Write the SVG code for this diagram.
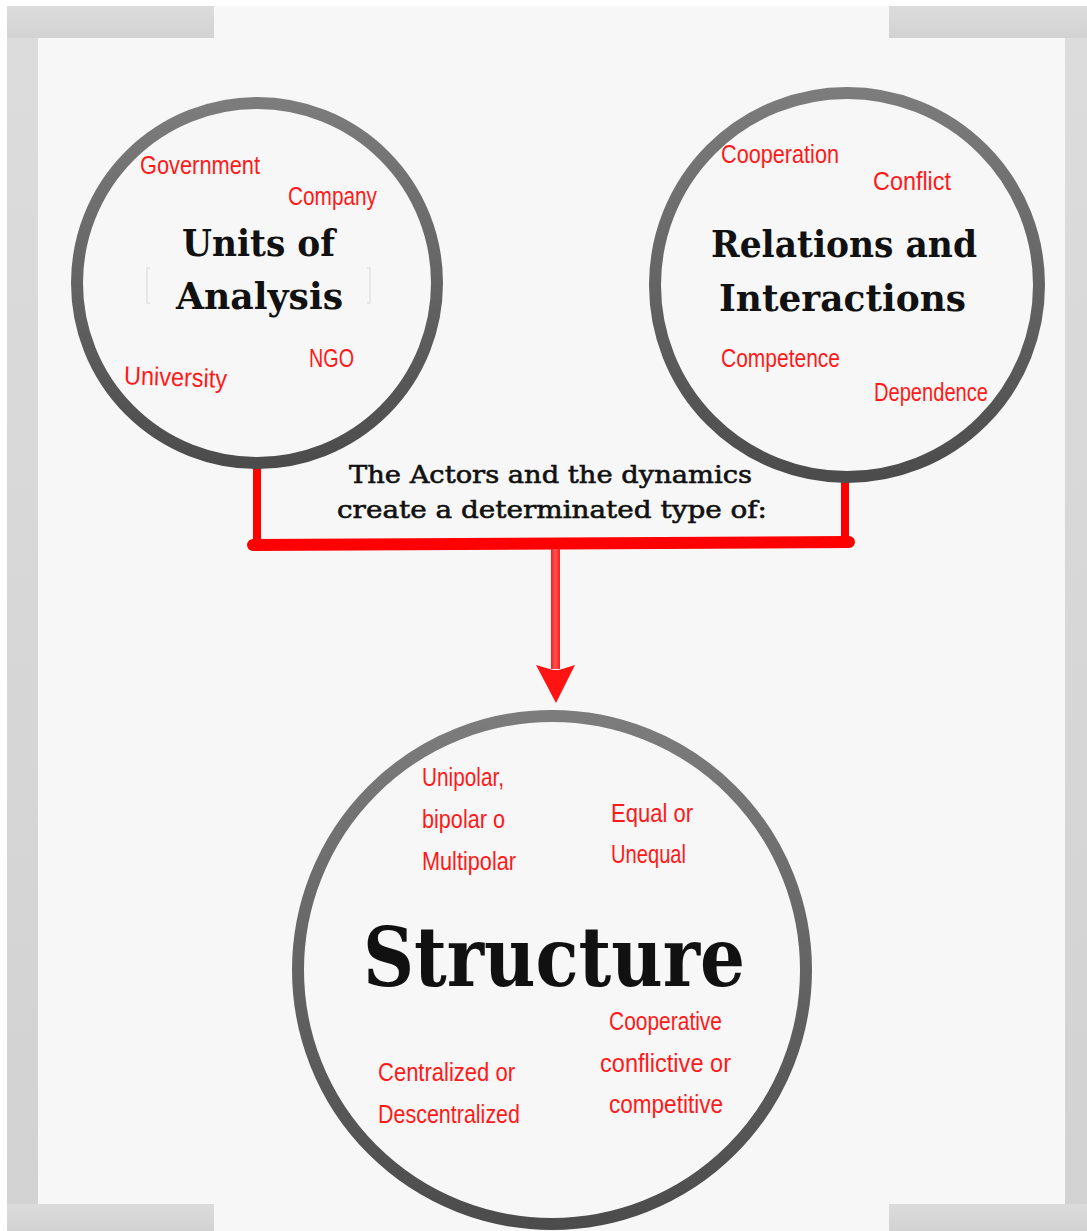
<svg xmlns="http://www.w3.org/2000/svg" width="1087" height="1231" viewBox="0 0 1087 1231">
<defs>
<linearGradient id="ring" x1="0" y1="0" x2="0" y2="1"><stop offset="0" stop-color="#7c7c7c"/><stop offset="1" stop-color="#4c4c4c"/></linearGradient>
<linearGradient id="band" x1="0" y1="0" x2="0" y2="1"><stop offset="0" stop-color="#dcdcdc"/><stop offset="1" stop-color="#d2d2d2"/></linearGradient>
<linearGradient id="shaft" x1="0" y1="0" x2="1" y2="0"><stop offset="0" stop-color="#ff1a1a"/><stop offset="0.5" stop-color="#ff5555"/><stop offset="1" stop-color="#ff1a1a"/></linearGradient>
</defs>
<style>
.ring{fill:none;stroke:url(#ring);stroke-width:12}
.title{font-family:"DejaVu Serif","Liberation Serif",serif;font-weight:bold;fill:#111}
.lbl{font-family:"Liberation Sans Narrow","Liberation Sans",sans-serif;font-size:26px;fill:#ff1a1a}
.link{stroke:#ff0000;fill:none;stroke-linecap:round}
.mid{font-family:"DejaVu Serif","Liberation Serif",serif;font-size:25px;fill:#111;stroke:#111;stroke-width:0.6}
</style>
<rect width="1087" height="1231" fill="#ffffff"/>
<rect x="7" y="6" width="1080" height="1225" fill="#f7f7f7"/>
<g id="frame" fill="url(#band)">
<rect x="7" y="6" width="31" height="1225"/>
<rect x="1065" y="6" width="22" height="1225"/>
<rect x="7" y="6" width="207" height="32"/>
<rect x="889" y="6" width="198" height="32"/>
<rect x="7" y="1204" width="207" height="27"/>
<rect x="889" y="1204" width="198" height="27"/>
</g>
<g id="connectors">
<line class="link" x1="257" y1="466" x2="257" y2="545" stroke-width="8"/>
<line class="link" x1="845" y1="477" x2="845" y2="542" stroke-width="8"/>
<line class="link" x1="253" y1="545" x2="849" y2="542" stroke-width="12"/>
<rect x="551" y="549" width="9" height="120" fill="url(#shaft)"/>
<polygon points="536,665 553,670 559,670 575,665 556,703" fill="#ff1414"/>
</g>
<g id="units">
<circle class="ring" cx="257" cy="283" r="180"/>
<path d="M150 268 h-3 v35 h3 M367 268 h3 v35 h-3" fill="none" stroke="#e2e2e2" stroke-width="1.5"/>
<text class="title" x="182" y="256" font-size="37" textLength="153" lengthAdjust="spacingAndGlyphs">Units of</text>
<text class="title" x="176" y="309" font-size="37" textLength="167" lengthAdjust="spacingAndGlyphs">Analysis</text>
<text class="lbl" x="140" y="174" textLength="120" lengthAdjust="spacingAndGlyphs">Government</text>
<text class="lbl" x="288" y="205" textLength="89" lengthAdjust="spacingAndGlyphs">Company</text>
<text class="lbl" x="124" y="386" textLength="103" lengthAdjust="spacingAndGlyphs" transform="rotate(2 175 380)">University</text>
<text class="lbl" x="309" y="367" textLength="45" lengthAdjust="spacingAndGlyphs">NGO</text>
</g>
<g id="relations">
<circle class="ring" cx="847" cy="285" r="192"/>
<text class="title" x="711" y="257" font-size="37" textLength="266" lengthAdjust="spacingAndGlyphs">Relations and</text>
<text class="title" x="719" y="311" font-size="37" textLength="247" lengthAdjust="spacingAndGlyphs">Interactions</text>
<text class="lbl" x="721" y="163" textLength="118" lengthAdjust="spacingAndGlyphs">Cooperation</text>
<text class="lbl" x="873" y="190" textLength="78" lengthAdjust="spacingAndGlyphs">Conflict</text>
<text class="lbl" x="721" y="367" textLength="119" lengthAdjust="spacingAndGlyphs">Competence</text>
<text class="lbl" x="874" y="401" textLength="114" lengthAdjust="spacingAndGlyphs">Dependence</text>
</g>
<g id="caption">
<text class="mid" x="349" y="483" textLength="403" lengthAdjust="spacingAndGlyphs">The Actors and the dynamics</text>
<text class="mid" x="337" y="518" textLength="430" lengthAdjust="spacingAndGlyphs">create a determinated type of:</text>
</g>
<g id="structure">
<circle class="ring" cx="552" cy="970" r="254" stroke-width="15"/>
<text class="title" x="363" y="986" font-size="82" textLength="382" lengthAdjust="spacingAndGlyphs">Structure</text>
<text class="lbl" x="422" y="786" textLength="82" lengthAdjust="spacingAndGlyphs">Unipolar,</text>
<text class="lbl" x="422" y="828" textLength="83" lengthAdjust="spacingAndGlyphs">bipolar o</text>
<text class="lbl" x="422" y="870" textLength="94" lengthAdjust="spacingAndGlyphs">Multipolar</text>
<text class="lbl" x="611" y="822" textLength="82" lengthAdjust="spacingAndGlyphs">Equal or</text>
<text class="lbl" x="611" y="863" textLength="75" lengthAdjust="spacingAndGlyphs">Unequal</text>
<text class="lbl" x="609" y="1030" textLength="113" lengthAdjust="spacingAndGlyphs">Cooperative</text>
<text class="lbl" x="600" y="1072" textLength="131" lengthAdjust="spacingAndGlyphs">conflictive or</text>
<text class="lbl" x="609" y="1113" textLength="114" lengthAdjust="spacingAndGlyphs">competitive</text>
<text class="lbl" x="378" y="1081" textLength="137" lengthAdjust="spacingAndGlyphs">Centralized or</text>
<text class="lbl" x="378" y="1123" textLength="142" lengthAdjust="spacingAndGlyphs">Descentralized</text>
</g>
</svg>
